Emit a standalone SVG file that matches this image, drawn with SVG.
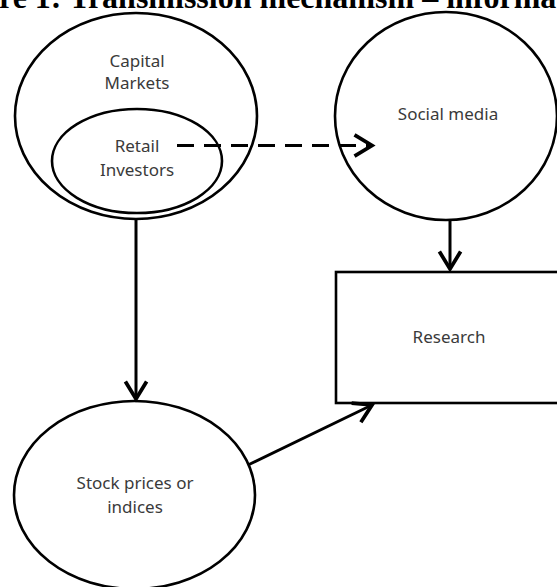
<svg xmlns="http://www.w3.org/2000/svg" width="557" height="587" viewBox="0 0 557 587">
<defs>
<style>
.shape{fill:none;stroke:#000;stroke-width:2.6}
.lbl{font-family:"Noto Sans","Open Sans",sans-serif;font-size:17px;fill:#3a3a3a;text-anchor:middle}
.title{font-family:"Liberation Serif","Times New Roman",serif;font-weight:bold;font-size:32px;fill:#000}
.conn{fill:none;stroke:#000;stroke-width:3}
.dash{stroke-dasharray:17 10}
</style>
<marker id="chev" markerUnits="userSpaceOnUse" markerWidth="30" markerHeight="30" viewBox="-18 -12 22 24" refX="0" refY="0" orient="auto">
<path d="M-14,-8.5 L0,0 L-14,8.5" fill="none" stroke="#000" stroke-width="3"/>
</marker>
</defs>
<rect width="557" height="587" fill="#fff"/>
<text class="title" x="-1" y="8">re 1: Transmission mechanism – informa</text>
<g id="capital-markets">
<ellipse class="shape" cx="136" cy="116" rx="121" ry="103"/>
<text class="lbl" x="137" y="67">Capital</text>
<text class="lbl" x="137" y="89">Markets</text>
</g>
<g id="retail-investors">
<ellipse class="shape" cx="137" cy="161" rx="85" ry="52"/>
<text class="lbl" x="137" y="152">Retail</text>
<text class="lbl" x="137" y="176">Investors</text>
</g>
<g id="social-media">
<ellipse class="shape" cx="446" cy="116" rx="111" ry="104"/>
<text class="lbl" x="448" y="120">Social media</text>
</g>
<g id="research">
<rect class="shape" x="336" y="272" width="240" height="131"/>
<text class="lbl" x="449" y="343">Research</text>
</g>
<g id="stock-prices">
<ellipse class="shape" cx="134.5" cy="495" rx="120.5" ry="94"/>
<text class="lbl" x="135" y="489">Stock prices or</text>
<text class="lbl" x="135" y="513">indices</text>
</g>
<g id="connectors">
<line class="conn dash" x1="177" y1="145.5" x2="372" y2="145.5" marker-end="url(#chev)"/>
<line class="conn" x1="450" y1="220" x2="450" y2="269" marker-end="url(#chev)"/>
<line class="conn" x1="136" y1="219" x2="136" y2="399" marker-end="url(#chev)"/>
<line class="conn" x1="248" y1="465" x2="372" y2="405" marker-end="url(#chev)"/>
</g>
</svg>
